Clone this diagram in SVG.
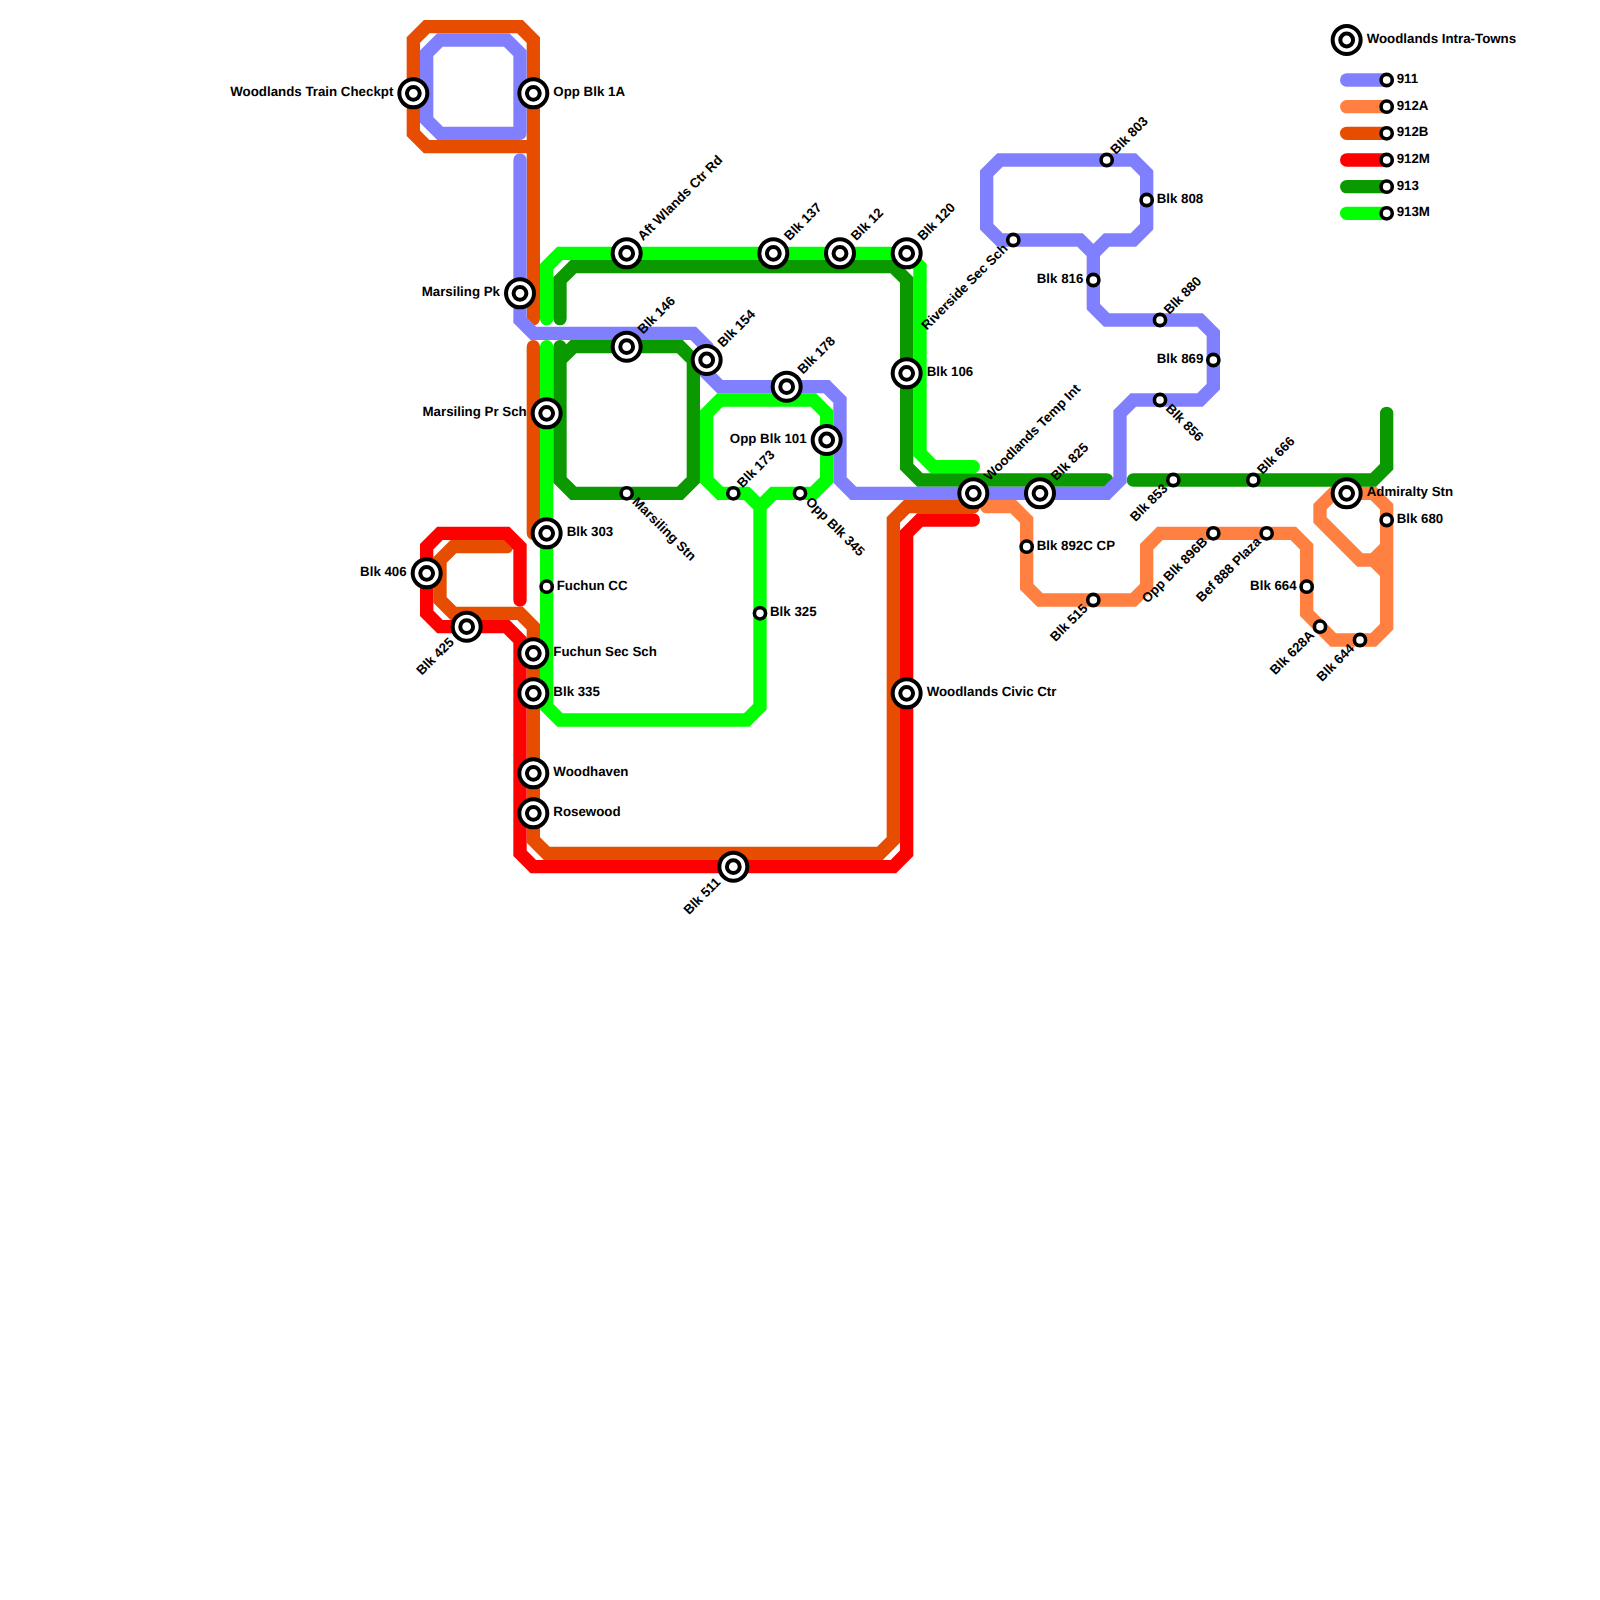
<svg xmlns="http://www.w3.org/2000/svg" xmlns:xlink="http://www.w3.org/1999/xlink" width="1600" height="1600" viewBox="0 0 1600 1600">
<style>
.l{fill:none;stroke-width:1;stroke-linecap:round;stroke-linejoin:miter}
.c911{stroke:#8080ff}.c912a{stroke:#ff8040}.c912b{stroke:#e64d00}.c912m{stroke:#ff0000}.c913{stroke:#0b9900}.c913m{stroke:#00ff00}
text{font-family:"Liberation Sans",Arial,sans-serif;font-weight:bold;font-size:13.3px;fill:#000;text-rendering:geometricPrecision}
.e{text-anchor:end}
</style>
<defs>
<g id="int"><circle r="14" fill="#fff" stroke="#000" stroke-width="4"/><circle r="6.4" fill="#fff" stroke="#000" stroke-width="4"/></g>
<g id="sm"><circle r="5.6" fill="#fff" stroke="#000" stroke-width="3.6"/></g>
</defs>
<rect width="1600" height="1600" fill="#fff"/>
<g id="connectors" transform="scale(13.33333)">
<path class="l c912b" d="M40 23.9V3L39 2H32L31 3V10L32 11H40"/>
<path class="l c912b" d="M40 26V40"/>
<path class="l c912b" d="M38 41H34L33 42V45L34 46H39L40 47V63L41 64H66L67 63V39L68 38H73"/>
<path class="l c912a" d="M74 38H76L77 39V44L78 45H85L86 44V41L87 40H97L98 41V46L100 48H103L104 47V43L103 42H102L99 39V38L100 37H103L104 38V41L103 42M104 41V43"/>
<path class="l c913m" d="M41 23.9V20L42 19H68L69 20V34L70 35H73"/>
<path class="l c913m" d="M41 26V53L42 54H56L57 53V38L56 37H54L53 36V31L54 30H61L62 31V36L61 37H58L57 38"/>
<path class="l c913" d="M42 23.9V21L43 20H67L68 21V35L69 36H83"/>
<path class="l c913" d="M42 26V36L43 37H51L52 36V27L51 26H43L42 27"/>
<path class="l c913" d="M85 36H103L104 35V31"/>
<path class="l c912m" d="M39 45V41L38 40H33L32 41V46L33 47H38L39 48V64L40 65H67L68 64V40L69 39H73"/>
<path class="l c911" d="M39 10H33L32 9V4L33 3H38L39 4V10"/>
<path class="l c911" d="M39 12V24L40 25H52L53 26V28L54 29H62L63 30V36L64 37H83L84 36V31L85 30H90L91 29V25L90 24H83L82 23V19L81 18H75L74 17V13L75 12H85L86 13V17L85 18H83L82 19"/>
<path class="l c911" d="M101 6H104"/>
<path class="l c912a" d="M101 8H104"/>
<path class="l c912b" d="M101 10H104"/>
<path class="l c912m" d="M101 12H104"/>
<path class="l c913" d="M101 14H104"/>
<path class="l c913m" d="M101 16H104"/>
</g>
<g id="st-checkpt" transform="translate(413.33 93.33)"><use xlink:href="#int"/><text class="e" x="-20" y="3">Woodlands Train Checkpt</text></g>
<g id="st-opp1a" transform="translate(533.33 93.33)"><use xlink:href="#int"/><text x="20" y="3">Opp Blk 1A</text></g>
<g id="st-marsilingpk" transform="translate(520 293.33)"><use xlink:href="#int"/><text class="e" x="-20" y="3">Marsiling Pk</text></g>
<g id="st-aft" transform="translate(626.67 253.33)"><use xlink:href="#int"/><text transform="rotate(-45)" x="20" y="3">Aft Wlands Ctr Rd</text></g>
<g id="st-146" transform="translate(626.67 346.67)"><use xlink:href="#int"/><text transform="rotate(-45)" x="20" y="3">Blk 146</text></g>
<g id="st-154" transform="translate(706.67 360)"><use xlink:href="#int"/><text transform="rotate(-45)" x="20" y="3">Blk 154</text></g>
<g id="st-178" transform="translate(786.67 386.67)"><use xlink:href="#int"/><text transform="rotate(-45)" x="20" y="3">Blk 178</text></g>
<g id="st-137" transform="translate(773.33 253.33)"><use xlink:href="#int"/><text transform="rotate(-45)" x="20" y="3">Blk 137</text></g>
<g id="st-12" transform="translate(840 253.33)"><use xlink:href="#int"/><text transform="rotate(-45)" x="20" y="3">Blk 12</text></g>
<g id="st-120" transform="translate(906.67 253.33)"><use xlink:href="#int"/><text transform="rotate(-45)" x="20" y="3">Blk 120</text></g>
<g id="st-106" transform="translate(906.67 373.33)"><use xlink:href="#int"/><text x="20" y="3">Blk 106</text></g>
<g id="st-pr" transform="translate(546.67 413.33)"><use xlink:href="#int"/><text class="e" x="-20" y="3">Marsiling Pr Sch</text></g>
<g id="st-303" transform="translate(546.67 533.33)"><use xlink:href="#int"/><text x="20" y="3">Blk 303</text></g>
<g id="st-fuchuncc" transform="translate(546.67 586.67)"><use xlink:href="#sm"/><text x="10" y="3">Fuchun CC</text></g>
<g id="st-fuchunsec" transform="translate(533.33 653.33)"><use xlink:href="#int"/><text x="20" y="3">Fuchun Sec Sch</text></g>
<g id="st-335" transform="translate(533.33 693.33)"><use xlink:href="#int"/><text x="20" y="3">Blk 335</text></g>
<g id="st-woodhaven" transform="translate(533.33 773.33)"><use xlink:href="#int"/><text x="20" y="3">Woodhaven</text></g>
<g id="st-rosewood" transform="translate(533.33 813.33)"><use xlink:href="#int"/><text x="20" y="3">Rosewood</text></g>
<g id="st-511" transform="translate(733.33 866.67)"><use xlink:href="#int"/><text class="e" transform="rotate(-45)" x="-20" y="3">Blk 511</text></g>
<g id="st-406" transform="translate(426.67 573.33)"><use xlink:href="#int"/><text class="e" x="-20" y="3">Blk 406</text></g>
<g id="st-425" transform="translate(466.67 626.67)"><use xlink:href="#int"/><text class="e" transform="rotate(-45)" x="-20" y="3">Blk 425</text></g>
<g id="st-marsilingstn" transform="translate(626.67 493.33)"><use xlink:href="#sm"/><text transform="rotate(45)" x="10" y="3">Marsiling Stn</text></g>
<g id="st-101" transform="translate(826.67 440)"><use xlink:href="#int"/><text class="e" x="-20" y="3">Opp Blk 101</text></g>
<g id="st-173" transform="translate(733.33 493.33)"><use xlink:href="#sm"/><text transform="rotate(-45)" x="10" y="3">Blk 173</text></g>
<g id="st-345" transform="translate(800 493.33)"><use xlink:href="#sm"/><text transform="rotate(45)" x="10" y="3">Opp Blk 345</text></g>
<g id="st-325" transform="translate(760 613.33)"><use xlink:href="#sm"/><text x="10" y="3">Blk 325</text></g>
<g id="st-civic" transform="translate(906.67 693.33)"><use xlink:href="#int"/><text x="20" y="3">Woodlands Civic Ctr</text></g>
<g id="st-temp" transform="translate(973.33 493.33)"><use xlink:href="#int"/><text transform="rotate(-45)" x="20" y="3">Woodlands Temp Int</text></g>
<g id="st-825" transform="translate(1040 493.33)"><use xlink:href="#int"/><text transform="rotate(-45)" x="20" y="3">Blk 825</text></g>
<g id="st-892c" transform="translate(1026.67 546.67)"><use xlink:href="#sm"/><text x="10" y="3">Blk 892C CP</text></g>
<g id="st-515" transform="translate(1093.33 600)"><use xlink:href="#sm"/><text class="e" transform="rotate(-45)" x="-10" y="3">Blk 515</text></g>
<g id="st-riverside" transform="translate(1013.33 240)"><use xlink:href="#sm"/><text class="e" transform="rotate(-45)" x="-10" y="3">Riverside Sec Sch</text></g>
<g id="st-803" transform="translate(1106.67 160)"><use xlink:href="#sm"/><text transform="rotate(-45)" x="10" y="3">Blk 803</text></g>
<g id="st-808" transform="translate(1146.67 200)"><use xlink:href="#sm"/><text x="10" y="3">Blk 808</text></g>
<g id="st-816" transform="translate(1093.33 280)"><use xlink:href="#sm"/><text class="e" x="-10" y="3">Blk 816</text></g>
<g id="st-880" transform="translate(1160 320)"><use xlink:href="#sm"/><text transform="rotate(-45)" x="10" y="3">Blk 880</text></g>
<g id="st-869" transform="translate(1213.33 360)"><use xlink:href="#sm"/><text class="e" x="-10" y="3">Blk 869</text></g>
<g id="st-856" transform="translate(1160 400)"><use xlink:href="#sm"/><text transform="rotate(45)" x="10" y="3">Blk 856</text></g>
<g id="st-853" transform="translate(1173.33 480)"><use xlink:href="#sm"/><text class="e" transform="rotate(-45)" x="-10" y="3">Blk 853</text></g>
<g id="st-666" transform="translate(1253.33 480)"><use xlink:href="#sm"/><text transform="rotate(-45)" x="10" y="3">Blk 666</text></g>
<g id="st-admiralty" transform="translate(1346.67 493.33)"><use xlink:href="#int"/><text x="20" y="3">Admiralty Stn</text></g>
<g id="st-680" transform="translate(1386.67 520)"><use xlink:href="#sm"/><text x="10" y="3">Blk 680</text></g>
<g id="st-896b" transform="translate(1213.33 533.33)"><use xlink:href="#sm"/><text class="e" transform="rotate(-45)" x="-10" y="3">Opp Blk 896B</text></g>
<g id="st-888" transform="translate(1266.67 533.33)"><use xlink:href="#sm"/><text class="e" transform="rotate(-45)" x="-10" y="3">Bef 888 Plaza</text></g>
<g id="st-664" transform="translate(1306.67 586.67)"><use xlink:href="#sm"/><text class="e" x="-10" y="3">Blk 664</text></g>
<g id="st-628a" transform="translate(1320 626.67)"><use xlink:href="#sm"/><text class="e" transform="rotate(-45)" x="-10" y="3">Blk 628A</text></g>
<g id="st-644" transform="translate(1360 640)"><use xlink:href="#sm"/><text class="e" transform="rotate(-45)" x="-10" y="3">Blk 644</text></g>
<g id="legend-title" transform="translate(1346.67 40)"><use xlink:href="#int"/><text x="20" y="3">Woodlands Intra-Towns</text></g>
<g id="legend-911" transform="translate(1386.67 80)"><use xlink:href="#sm"/><text x="10" y="3">911</text></g>
<g id="legend-912a" transform="translate(1386.67 106.67)"><use xlink:href="#sm"/><text x="10" y="3">912A</text></g>
<g id="legend-912b" transform="translate(1386.67 133.33)"><use xlink:href="#sm"/><text x="10" y="3">912B</text></g>
<g id="legend-912m" transform="translate(1386.67 160)"><use xlink:href="#sm"/><text x="10" y="3">912M</text></g>
<g id="legend-913" transform="translate(1386.67 186.67)"><use xlink:href="#sm"/><text x="10" y="3">913</text></g>
<g id="legend-913m" transform="translate(1386.67 213.33)"><use xlink:href="#sm"/><text x="10" y="3">913M</text></g>
</svg>
